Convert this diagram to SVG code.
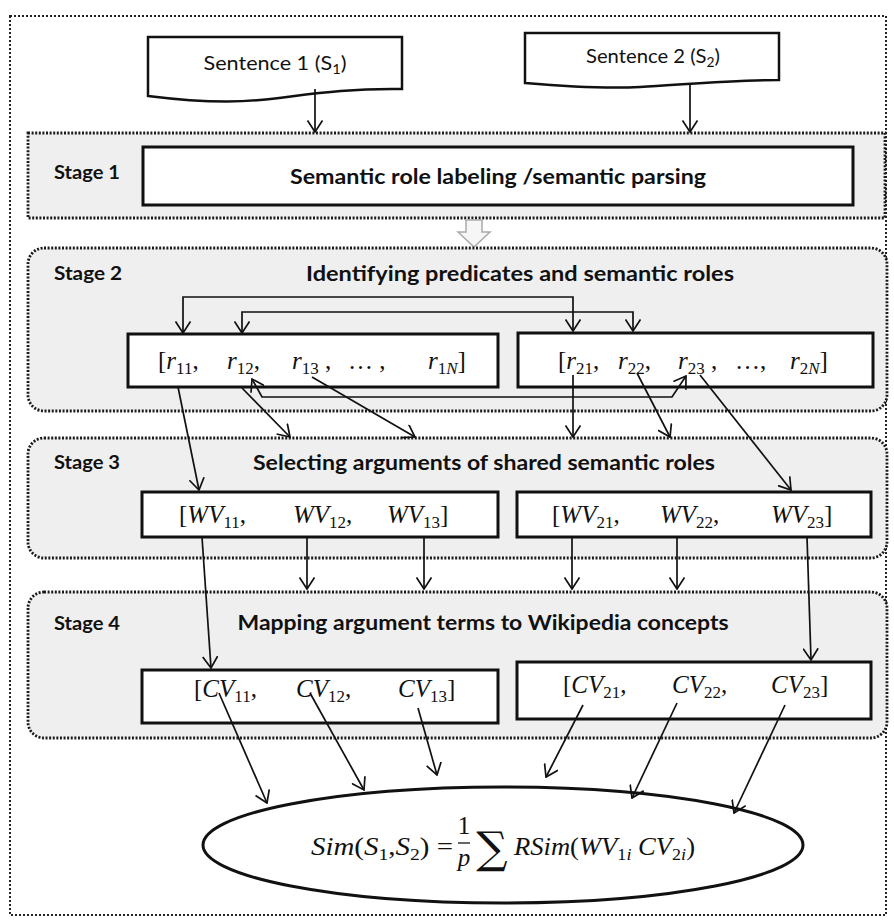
<svg xmlns="http://www.w3.org/2000/svg" width="894" height="921" viewBox="0 0 894 921">
<defs>
<marker id="ah" viewBox="0 0 13 16" markerWidth="13" markerHeight="16" refX="12" refY="8" orient="auto-start-reverse" markerUnits="userSpaceOnUse">
<path d="M0.5,0.5 L12,8 L0.5,15.5" fill="none" stroke="#111" stroke-width="1.7"/>
</marker>
<style>
.outer{fill:#fff;stroke:#222;stroke-width:2;stroke-dasharray:2 2}
.stage{fill:#efefef;stroke:#1a1a1a;stroke-width:2.8;stroke-dasharray:2 1.6}
.box{fill:#fff;stroke:#111;stroke-width:3}
.lbl{font-family:Lato,"Liberation Sans",sans-serif;font-weight:bold;font-size:19px;fill:#111}
.ttl{font-family:Lato,"Liberation Sans",sans-serif;font-weight:bold;font-size:21px;fill:#111;text-anchor:middle}
.snt{font-family:Lato,"Liberation Sans",sans-serif;font-size:19px;fill:#111;text-anchor:middle}
.m{font-family:"Liberation Serif","DejaVu Serif",serif;font-size:25px;fill:#111}
.i{font-style:italic}
.s{font-size:17px}
.conn path{fill:none;stroke:#111;stroke-width:1.7;marker-end:url(#ah)}
.conn path.both{marker-start:url(#ah)}
</style>
</defs>
<rect class="outer" x="10" y="16" width="876" height="899"/>

<g id="sentence1">
<path d="M148,37 H402 V89 C340,88 300,96 260,100 C220,104 180,100 148,96 Z" fill="#fff" stroke="#111" stroke-width="2.5"/>
<text class="snt" x="275" y="70" textLength="143" lengthAdjust="spacingAndGlyphs">Sentence 1 (S<tspan font-size="13" dy="4">1</tspan><tspan dy="-4">)</tspan></text>
</g>
<g id="sentence2">
<path d="M525,33 H779 V80 C730,80 690,84 640,87 C600,89 560,86 525,83 Z" fill="#fff" stroke="#111" stroke-width="2.5"/>
<text class="snt" x="653" y="63" textLength="134" lengthAdjust="spacingAndGlyphs">Sentence 2 (S<tspan font-size="13" dy="4">2</tspan><tspan dy="-4">)</tspan></text>
</g>

<g id="stage1">
<rect class="stage" x="28" y="133" width="857" height="85"/>
<text class="lbl" x="54" y="179" textLength="66" lengthAdjust="spacingAndGlyphs">Stage 1</text>
<rect class="box" x="143" y="147" width="710" height="58"/>
<text class="ttl" x="498" y="184" textLength="416" lengthAdjust="spacingAndGlyphs">Semantic role labeling /semantic parsing</text>
</g>

<g id="flow-arrow">
<path d="M466,220 H482 V232 H490 L474,247 L458,232 H466 Z" fill="#f6f6f6" stroke="#aaa" stroke-width="1.5"/>
</g>

<g id="stage2">
<rect class="stage" x="28" y="248" width="859" height="163" rx="16"/>
<text class="lbl" x="54" y="280" textLength="68" lengthAdjust="spacingAndGlyphs">Stage 2</text>
<text class="ttl" x="520" y="281" textLength="428" lengthAdjust="spacingAndGlyphs">Identifying predicates and semantic roles</text>
</g>
<g id="roles1">
<rect class="box" x="128" y="334" width="370" height="53"/>
<text class="m" x="158" y="369">[<tspan class="i">r</tspan><tspan class="s" dy="5">11</tspan><tspan dy="-5">,</tspan></text>
<text class="m" x="227" y="369"><tspan class="i">r</tspan><tspan class="s" dy="5">12</tspan><tspan dy="-5">,</tspan></text>
<text class="m" x="292" y="369"><tspan class="i">r</tspan><tspan class="s" dy="5">13</tspan><tspan dy="-5"> ,</tspan></text>
<text class="m" x="348" y="369">… ,</text>
<text class="m" x="428" y="369"><tspan class="i">r</tspan><tspan class="s" dy="5">1<tspan class="i">N</tspan></tspan><tspan dy="-5">]</tspan></text>
</g>
<g id="roles2">
<rect class="box" x="518" y="333" width="355" height="54"/>
<text class="m" x="558" y="369">[<tspan class="i">r</tspan><tspan class="s" dy="5">21</tspan><tspan dy="-5">,</tspan></text>
<text class="m" x="618" y="369"><tspan class="i">r</tspan><tspan class="s" dy="5">22</tspan><tspan dy="-5">,</tspan></text>
<text class="m" x="678" y="369"><tspan class="i">r</tspan><tspan class="s" dy="5">23</tspan><tspan dy="-5"> ,</tspan></text>
<text class="m" x="735" y="369">…,</text>
<text class="m" x="790" y="369"><tspan class="i">r</tspan><tspan class="s" dy="5">2<tspan class="i">N</tspan></tspan><tspan dy="-5">]</tspan></text>
</g>

<g id="stage3">
<rect class="stage" x="28" y="438" width="859" height="120" rx="16"/>
<text class="lbl" x="54" y="469" textLength="66" lengthAdjust="spacingAndGlyphs">Stage 3</text>
<text class="ttl" x="484" y="470" textLength="462" lengthAdjust="spacingAndGlyphs">Selecting arguments of shared semantic roles</text>
</g>
<g id="args1">
<rect class="box" x="142" y="492" width="356" height="45"/>
<text class="m" x="179" y="523">[<tspan class="i">WV</tspan><tspan class="s" dy="5">11</tspan><tspan dy="-5">,</tspan></text>
<text class="m" x="293" y="523"><tspan class="i">WV</tspan><tspan class="s" dy="5">12</tspan><tspan dy="-5">,</tspan></text>
<text class="m" x="387" y="523"><tspan class="i">WV</tspan><tspan class="s" dy="5">13</tspan><tspan dy="-5">]</tspan></text>
</g>
<g id="args2">
<rect class="box" x="517" y="492" width="354" height="45"/>
<text class="m" x="552" y="523">[<tspan class="i">WV</tspan><tspan class="s" dy="5">21</tspan><tspan dy="-5">,</tspan></text>
<text class="m" x="660" y="523"><tspan class="i">WV</tspan><tspan class="s" dy="5">22</tspan><tspan dy="-5">,</tspan></text>
<text class="m" x="771" y="523"><tspan class="i">WV</tspan><tspan class="s" dy="5">23</tspan><tspan dy="-5">]</tspan></text>
</g>

<g id="stage4">
<rect class="stage" x="28" y="592" width="859" height="146" rx="16"/>
<text class="lbl" x="54" y="630" textLength="66" lengthAdjust="spacingAndGlyphs">Stage 4</text>
<text class="ttl" x="483" y="630" textLength="491" lengthAdjust="spacingAndGlyphs">Mapping argument terms to Wikipedia concepts</text>
</g>
<g id="concepts1">
<rect class="box" x="142" y="670" width="356" height="53"/>
<text class="m" x="194" y="697">[<tspan class="i">CV</tspan><tspan class="s" dy="5">11</tspan><tspan dy="-5">,</tspan></text>
<text class="m" x="296" y="697"><tspan class="i">CV</tspan><tspan class="s" dy="5">12</tspan><tspan dy="-5">,</tspan></text>
<text class="m" x="398" y="697"><tspan class="i">CV</tspan><tspan class="s" dy="5">13</tspan><tspan dy="-5">]</tspan></text>
</g>
<g id="concepts2">
<rect class="box" x="517" y="662" width="354" height="57"/>
<text class="m" x="563" y="693">[<tspan class="i">CV</tspan><tspan class="s" dy="5">21</tspan><tspan dy="-5">,</tspan></text>
<text class="m" x="672" y="693"><tspan class="i">CV</tspan><tspan class="s" dy="5">22</tspan><tspan dy="-5">,</tspan></text>
<text class="m" x="771" y="693"><tspan class="i">CV</tspan><tspan class="s" dy="5">23</tspan><tspan dy="-5">]</tspan></text>
</g>

<g id="similarity">
<ellipse cx="503" cy="845" rx="300" ry="58" fill="#fff" stroke="#111" stroke-width="3"/>
<text class="m" x="311" y="855" textLength="142" lengthAdjust="spacingAndGlyphs"><tspan class="i">Sim</tspan>(<tspan class="i">S</tspan><tspan class="s" dy="5">1</tspan><tspan dy="-5">,</tspan><tspan class="i">S</tspan><tspan class="s" dy="5">2</tspan><tspan dy="-5">) =</tspan></text>
<text class="m" x="464" y="834" text-anchor="middle" font-size="20">1</text>
<line x1="458" y1="843" x2="470" y2="843" stroke="#111" stroke-width="1.3"/>
<text class="m i" x="464" y="866" text-anchor="middle" font-size="22">p</text>
<text x="492" y="863" text-anchor="middle" font-family="'DejaVu Serif',serif" font-size="44" fill="#111">∑</text>
<text class="m" x="514" y="855" textLength="181" lengthAdjust="spacingAndGlyphs"><tspan class="i">RSim</tspan>(<tspan class="i">WV</tspan><tspan class="s" dy="5">1<tspan class="i">i</tspan></tspan><tspan dy="-5"> </tspan><tspan class="i">CV</tspan><tspan class="s" dy="5">2<tspan class="i">i</tspan></tspan><tspan dy="-5">)</tspan></text>
</g>

<g id="connectors" class="conn">
<path d="M315,89 V132"/>
<path d="M690,84 V132"/>
<path class="both" d="M183,333 V297 H573 V331"/>
<path class="both" d="M242,333 V312 H633 V331"/>
<path class="both" d="M252,379 L262,397 H672 L686,376"/>
<path d="M178,387 L199,490"/>
<path d="M242,388 L290,437"/>
<path d="M312,377 L415,437"/>
<path d="M573,375 V437"/>
<path d="M637,373 L670,437"/>
<path d="M700,375 L791,490"/>
<path d="M202,537 L211,668"/>
<path d="M307,537 V589"/>
<path d="M424,537 V589"/>
<path d="M572,537 V589"/>
<path d="M677,537 V589"/>
<path d="M807,537 L811,660"/>
<path d="M219,693 L267,803"/>
<path d="M310,693 L364,790"/>
<path d="M418,708 L437,775"/>
<path d="M583,705 L546,777"/>
<path d="M677,703 L632,798"/>
<path d="M785,705 L734,813"/>
</g>
</svg>
